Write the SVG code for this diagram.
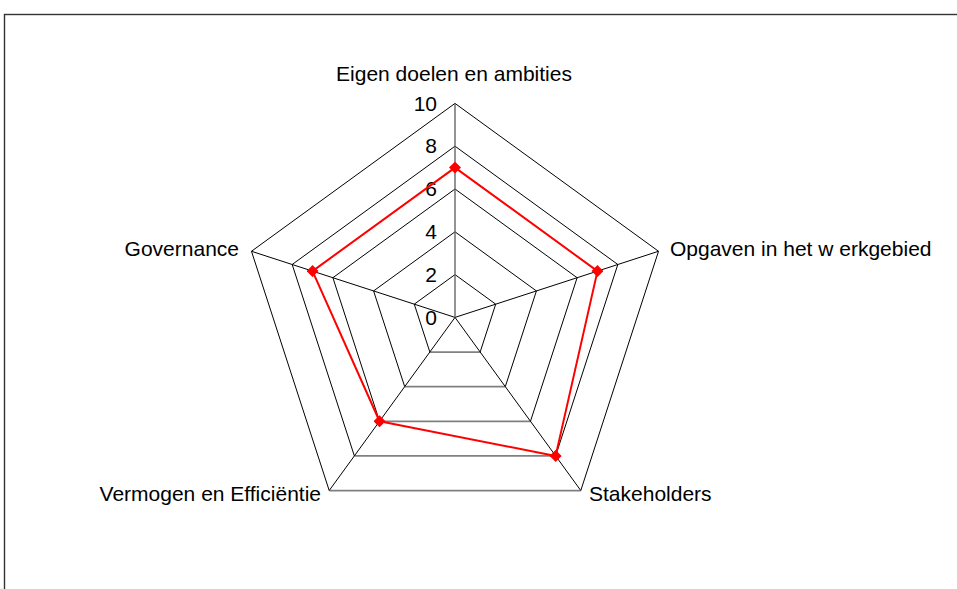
<svg xmlns="http://www.w3.org/2000/svg" width="957" height="589" viewBox="0 0 957 589">
  <style>
    text { font-family: "Liberation Sans", Arial, sans-serif; font-size: 21px; fill: #000; }
    .ring { fill: none; stroke: #000; stroke-width: 1; }
    .base { fill: none; stroke: #808080; stroke-width: 1.8; }
    .spoke { stroke: #000; stroke-width: 1; }
    .axis { stroke: #666; stroke-width: 1.4; }
    .series { fill: none; stroke: #ff0000; stroke-width: 2; stroke-linejoin: round; }
    .num { text-anchor: end; }
  </style>
  <defs>
    <marker id="diamond" viewBox="-6 -6 12 12" markerWidth="12" markerHeight="12" markerUnits="userSpaceOnUse" refX="0" refY="0">
      <polygon points="0,-6 6,0 0,6 -6,0" fill="#ff0000"/>
    </marker>
  </defs>

  <rect width="957" height="589" fill="#fff"/>
  <!-- chart frame -->
  <rect x="4.5" y="14.5" width="970" height="600" fill="none" stroke="#333" stroke-width="1.4"/>

  <g id="grid" transform="translate(455,317.4)">
    <!-- rings at 2, 4, 6, 8, 10 -->
    <polyline class="ring" points="-125.79,173.13 -203.53,-66.13 0,-214 203.53,-66.13 125.79,173.13"/>
    <polyline class="ring" points="-100.63,138.50 -162.82,-52.90 0,-171.2 162.82,-52.90 100.63,138.50"/>
    <polyline class="ring" points="-75.47,103.88 -122.12,-39.68 0,-128.4 122.12,-39.68 75.47,103.88"/>
    <polyline class="ring" points="-50.31,69.25 -81.41,-26.45 0,-85.6 81.41,-26.45 50.31,69.25"/>
    <polyline class="ring" points="-25.16,34.63 -40.71,-13.23 0,-42.8 40.71,-13.23 25.16,34.63"/>
    <line class="base" x1="-125.79" y1="173.13" x2="125.79" y2="173.13"/>
    <line class="base" x1="-100.63" y1="138.50" x2="100.63" y2="138.50"/>
    <line class="base" x1="-75.47" y1="103.88" x2="75.47" y2="103.88"/>
    <line class="base" x1="-50.31" y1="69.25" x2="50.31" y2="69.25"/>
    <line class="base" x1="-25.16" y1="34.63" x2="25.16" y2="34.63"/>
    <!-- spokes -->
    <line class="spoke" x1="0" y1="0" x2="203.53" y2="-66.13"/>
    <line class="spoke" x1="0" y1="0" x2="125.79" y2="173.13"/>
    <line class="spoke" x1="0" y1="0" x2="-125.79" y2="173.13"/>
    <line class="spoke" x1="0" y1="0" x2="-203.53" y2="-66.13"/>
    <line class="axis" x1="0" y1="0" x2="0" y2="-214"/>
  </g>

  <g id="scale">
    <text class="num" x="437" y="110.5">10</text>
    <text class="num" x="437" y="153">8</text>
    <text class="num" x="437" y="196">6</text>
    <text class="num" x="437" y="239">4</text>
    <text class="num" x="437" y="281.5">2</text>
    <text class="num" x="437" y="324.5">0</text>
  </g>

  <g id="series" transform="translate(455,317.4)">
    <polygon class="series" points="0,-149.8 142.47,-46.29 100.63,138.50 -75.47,103.88 -142.47,-46.29" marker-start="url(#diamond)" marker-mid="url(#diamond)"/>
  </g>

  <g id="label-eigen"><text x="454" y="81" text-anchor="middle">Eigen doelen en ambities</text></g>
  <g id="label-opgaven"><text x="670" y="256">Opgaven in het w erkgebied</text></g>
  <g id="label-stakeholders"><text x="589" y="501">Stakeholders</text></g>
  <g id="label-vermogen"><text x="321" y="501" text-anchor="end">Vermogen en Efficiëntie</text></g>
  <g id="label-governance"><text x="239" y="256" text-anchor="end">Governance</text></g>
</svg>
